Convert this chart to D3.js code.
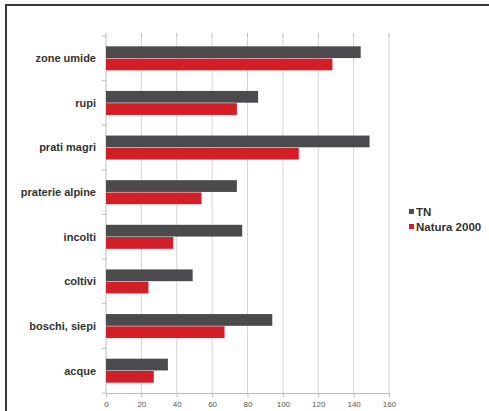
<!DOCTYPE html>
<html>
<head>
<meta charset="utf-8">
<script src="https://cdn.jsdelivr.net/npm/d3@7"></script>
<style>
  html, body { margin: 0; padding: 0; background: #fff; }
  svg { display: block; }
</style>
</head>
<body>
<svg id="chart" width="489" height="411"></svg>
<script>
// Habitat categories, top to bottom
const categories = ["zone umide", "rupi", "prati magri", "praterie alpine", "incolti", "coltivi", "boschi, siepi", "acque"];
// Values per series
const seriesNames = ["TN", "Natura 2000"];
const valuesTN = [144, 86, 149, 74, 77, 49, 94, 35];
const valuesNatura = [128, 74, 109, 54, 38, 24, 67, 27];
const xTicks = [0, 20, 40, 60, 80, 100, 120, 140, 160];
const colors = ["#4b4b4d", "#d21f27"];

const svg = d3.select("#chart");
const W = 489, H = 411;
const font = "Liberation Sans, Arial, sans-serif";

// outer frame
svg.append("rect")
  .attr("x", 6).attr("y", 5)
  .attr("width", W + 10).attr("height", H + 10)
  .attr("fill", "#fff")
  .attr("stroke", "#3a3a3a").attr("stroke-width", 2);

const plot = { left: 106, right: 389, top: 36, bottom: 393 };

const x = d3.scaleLinear().domain([0, 160]).range([plot.left, plot.right]);
const y = d3.scaleBand().domain(categories).range([plot.top, plot.bottom]).paddingInner(0.44).paddingOuter(0.22);
const ySub = d3.scaleBand().domain(seriesNames).range([0, y.bandwidth()]).padding(0.04);

// vertical gridlines
svg.append("g")
  .selectAll("line")
  .data(xTicks.slice(1))
  .join("line")
  .attr("x1", d => x(d)).attr("x2", d => x(d))
  .attr("y1", plot.top).attr("y2", plot.bottom)
  .attr("stroke", "#d4d4d4").attr("stroke-width", 1);

// small marks along the top edge
svg.append("g")
  .selectAll("line")
  .data(xTicks)
  .join("line")
  .attr("x1", d => x(d)).attr("x2", d => x(d))
  .attr("y1", plot.top - 3).attr("y2", plot.top + 1)
  .attr("stroke", "#bdbdbd");

// bottom axis
const xAxis = svg.append("g")
  .attr("transform", `translate(0,${plot.bottom})`)
  .call(d3.axisBottom(x).tickValues(xTicks).tickSize(4).tickSizeOuter(0));
xAxis.select(".domain").attr("stroke", "#bdbdbd");
xAxis.selectAll(".tick line").attr("stroke", "#bdbdbd");
xAxis.selectAll("text")
  .attr("fill", "#555").attr("font-size", 8)
  .attr("font-family", font)
  .attr("dy", "0.9em");

// left axis with boundary ticks between categories
svg.append("line")
  .attr("x1", plot.left).attr("x2", plot.left)
  .attr("y1", plot.top).attr("y2", plot.bottom)
  .attr("stroke", "#bdbdbd");
svg.append("g")
  .selectAll("line")
  .data(d3.range(categories.length + 1))
  .join("line")
  .attr("x1", plot.left - 4).attr("x2", plot.left)
  .attr("y1", i => plot.top + i * (plot.bottom - plot.top) / categories.length)
  .attr("y2", i => plot.top + i * (plot.bottom - plot.top) / categories.length)
  .attr("stroke", "#bdbdbd");

// bars
const rows = categories.map((c, i) => ({ cat: c, vals: [valuesTN[i], valuesNatura[i]] }));
const g = svg.append("g");
rows.forEach(r => {
  g.selectAll(null)
    .data(r.vals.map((v, j) => ({ v, s: seriesNames[j], j })))
    .join("rect")
    .attr("x", x(0))
    .attr("y", d => y(r.cat) + ySub(d.s))
    .attr("width", d => x(d.v) - x(0))
    .attr("height", ySub.bandwidth())
    .attr("fill", d => colors[d.j]);
});

// category labels
svg.append("g")
  .selectAll("text")
  .data(categories)
  .join("text")
  .attr("x", 96)
  .attr("y", d => y(d) + y.bandwidth() / 2)
  .attr("dy", "0.35em")
  .attr("text-anchor", "end")
  .attr("font-family", font)
  .attr("font-size", 11)
  .attr("font-weight", "bold")
  .attr("fill", "#333")
  .text(d => d);

// legend
const legend = svg.append("g").attr("transform", "translate(409,212)");
seriesNames.forEach((s, i) => {
  const row = legend.append("g").attr("transform", `translate(0,${i * 15})`);
  row.append("rect").attr("x", 0).attr("y", -3).attr("width", 5).attr("height", 5).attr("fill", colors[i]);
  row.append("text")
    .attr("x", 7).attr("y", 0).attr("dy", "0.35em")
    .attr("font-family", font)
    .attr("font-size", 11.5).attr("font-weight", "bold")
    .attr("fill", "#333")
    .text(s);
});
</script>
</body>
</html>
